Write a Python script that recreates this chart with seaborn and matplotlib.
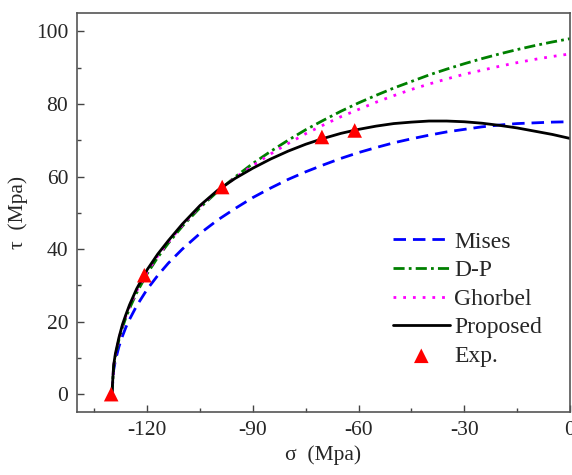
import matplotlib
matplotlib.use("Agg")
import matplotlib.pyplot as plt
import pandas as pd
import seaborn as sns
from matplotlib.ticker import MultipleLocator

# stress values
sigma = [-130, -129.5, -129, -128, -127, -126, -125, -123, -120, -117, -114, -110,
         -105, -100, -95, -90, -85, -80, -75, -70, -65, -60, -55, -50, -45, -40,
         -35, -30, -25, -20, -15, -10, -5, 0]

mises = [0, 6.6, 9.3, 13.1, 16.0, 18.5, 20.6, 24.3, 28.9, 32.7, 36.1, 40.0,
         44.3, 48.0, 51.2, 54.2, 56.8, 59.2, 61.3, 63.2, 65.0, 66.6, 68.0, 69.3,
         70.4, 71.4, 72.3, 73.0, 73.7, 74.2, 74.6, 74.8, 75.0, 75.1]

dp = [0, 7.5, 10.6, 15.0, 18.4, 21.2, 23.6, 27.9, 33.2, 37.7, 41.6, 46.3,
      51.4, 55.9, 59.9, 63.6, 66.9, 70.0, 72.9, 75.5, 78.0, 80.3, 82.4, 84.4,
      86.2, 88.0, 89.6, 91.1, 92.5, 93.8, 95.0, 96.1, 97.1, 98.0]

ghorbel = [0, 7.7, 10.9, 15.3, 18.8, 21.6, 24.1, 28.4, 33.7, 38.1, 41.9, 46.6,
           51.8, 56.0, 59.7, 63.0, 66.2, 69.1, 71.8, 74.2, 76.5, 78.5, 80.5, 82.3,
           84.0, 85.5, 86.9, 88.2, 89.3, 90.4, 91.4, 92.3, 93.1, 93.8]

proposed = [0, 8.0, 11.2, 15.6, 19.2, 22.0, 24.6, 29.0, 34.3, 38.6, 42.3, 46.9,
            52.0, 56.2, 59.5, 62.3, 64.8, 67.0, 68.9, 70.5, 71.9, 73.0, 73.9, 74.6,
            75.0, 75.3, 75.3, 75.1, 74.7, 74.1, 73.4, 72.5, 71.6, 70.5]

exp_sigma = [-130.2, -120.8, -98.7, -70.4, -61.1]
exp_tau = [0, 32.8, 57.1, 70.9, 72.7]

sns.set_style("ticks")
plt.rcParams['font.family'] = ['Liberation Serif', 'DejaVu Serif']

df = pd.DataFrame({'sigma': sigma, 'Mises': mises, 'D-P': dp,
                   'Ghorbel': ghorbel, 'Proposed': proposed})
dfexp = pd.DataFrame({'sigma': exp_sigma, 'tau': exp_tau})

fig = plt.figure(figsize=(5.72, 4.75), dpi=100)
ax = fig.add_axes([0.134, 0.132, 0.8625, 0.840])

sns.lineplot(data=df, x='sigma', y='Mises', ax=ax, color='#0000ff', lw=2,
             label='Mises', sort=False)
ax.lines[-1].set_dashes([4.5, 2.5])
sns.lineplot(data=df, x='sigma', y='D-P', ax=ax, color='#008000', lw=2,
             label='D-P', sort=False)
ax.lines[-1].set_dashes([4, 1.5, 1, 1.5])
sns.lineplot(data=df, x='sigma', y='Ghorbel', ax=ax, color='#ff00ff', lw=2,
             label='Ghorbel', sort=False)
ax.lines[-1].set_dashes([1, 2.5])
sns.lineplot(data=df, x='sigma', y='Proposed', ax=ax, color='black', lw=2,
             label='Proposed', sort=False)
sns.scatterplot(data=dfexp, x='sigma', y='tau', ax=ax, marker='^', s=110,
                color='red', edgecolor='none', label='Exp.', zorder=5)

ax.set_xlim(-140, 0)
ax.set_ylim(-5, 105)
ax.xaxis.set_minor_locator(MultipleLocator(15))
ax.yaxis.set_major_locator(MultipleLocator(20))
ax.yaxis.set_minor_locator(MultipleLocator(10))
ax.set_xticks([-120, -90, -60, -30, 0])
ax.set_xticklabels(['-120', '-90', '-60', '-30', '0'])
ax.tick_params(which='major', direction='in', length=5, width=1, labelsize=15.5,
               color='#444444', pad=6)
ax.tick_params(which='minor', direction='in', length=3, width=1, color='#444444')
for sp in ax.spines.values():
    sp.set_visible(True)
    sp.set_color('#555555')
    sp.set_linewidth(1.2)

ax.set_xlabel('σ  (Mpa)', fontsize=15.5, labelpad=4)
ax.set_ylabel('τ  (Mpa)', fontsize=15.5, labelpad=6)

ax.legend(loc='upper left', bbox_to_anchor=(0.622, 0.478), frameon=False,
          fontsize=17, handlelength=2.4, labelspacing=0.3,
          handletextpad=0.2, borderaxespad=0)

fig.savefig('out.png', dpi=100)
